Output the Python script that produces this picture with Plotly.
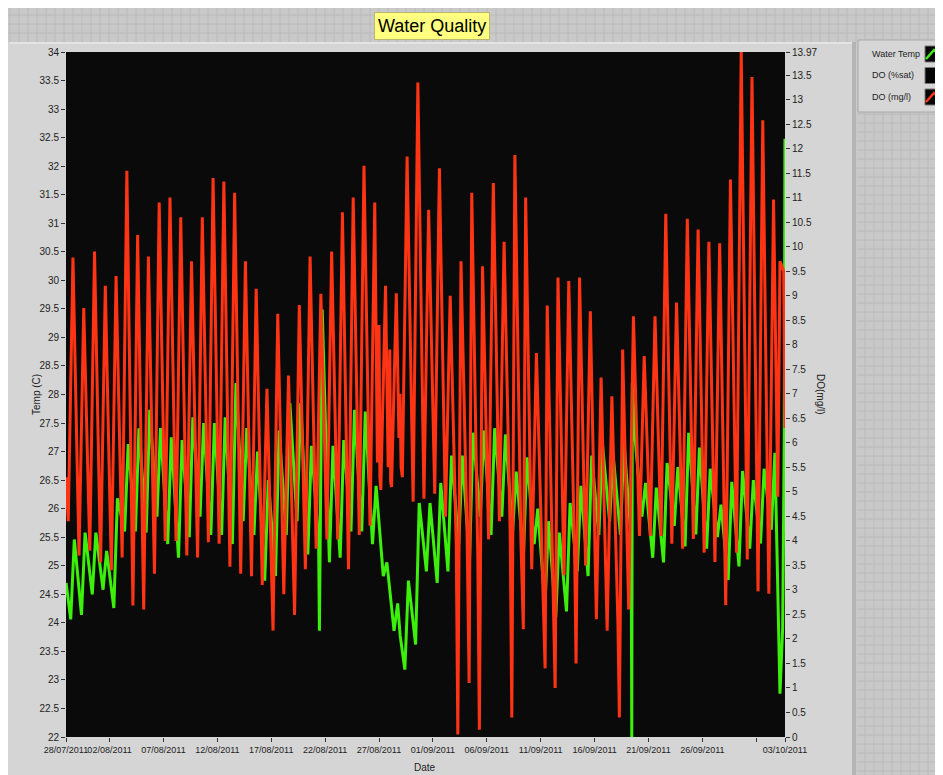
import pandas as pd
import plotly.graph_objects as go

# ---------------- data ----------------
BASE = "2011-07-28"
days = list(range(1, 67))            # 29/07/2011 .. 02/10/2011

do_high = [9.78, 8.75, 9.9, 9.2, 9.4, 11.55, 10.24, 9.8, 10.9, 11.0,
           10.6, 9.7, 10.6, 11.4, 11.33, 11.1, 9.7, 9.14, 7.1, 8.63,
           7.37, 8.81, 9.8, 9.04, 9.9, 10.7, 11.0, 11.65, 10.9, 9.2,
           9.05, 11.84, 13.35, 10.75, 11.6, 9.0, 9.7, 11.1, 9.6, 11.3,
           10.1, 11.87, 11.0, 7.83, 8.8, 9.37, 9.3, 9.37, 8.68, 7.33,
           6.95, 7.9, 8.58, 7.77, 8.58, 10.67, 8.86, 10.57, 10.35, 10.1,
           10.07, 11.37, 13.97, 13.46, 12.58, 10.96]
do_low = [4.4, 3.7, 3.8, 3.56, 3.4, 3.66, 2.68, 2.6, 3.33, 4.0,
          4.0, 3.7, 3.66, 3.97, 3.94, 3.47, 3.33, 3.28, 3.1, 2.17,
          2.91, 2.49, 3.42, 3.84, 4.03, 4.03, 3.42, 4.12, 4.31, 5.04,
          5.1, 5.3, 4.8, 4.86, 4.96, 4.49, 3.9, 4.2, 3.66, 4.03,
          4.4, 4.2, 4.0, 3.42, 3.4, 3.1, 3.3, 3.5, 3.5, 2.4,
          2.17, 2.3, 2.6, 4.1, 4.1, 4.1, 3.94, 3.84, 4.04, 3.76,
          3.57, 2.69, 3.76, 3.62, 2.97, 2.92]
temp_high = [25.46, 25.58, 25.58, 25.26, 26.18, 27.13, 27.41, 27.73, 27.41, 27.25,
             27.2, 27.6, 27.5, 27.5, 27.6, 28.2, 27.41, 27.0, 26.5, 27.37,
             27.85, 27.85, 27.1, 29.49, 27.1, 27.2, 27.73, 27.7, 26.4, 25.06,
             24.34, 24.74, 26.1, 26.1, 26.45, 26.93, 26.93, 27.33, 27.37, 27.41,
             27.3, 26.65, 26.9, 26.0, 25.78, 25.58, 26.1, 26.4, 26.93, 27.13,
             26.93, 27.17, 27.3, 26.45, 26.37, 26.8, 26.73, 27.33, 27.07, 26.7,
             26.07, 26.47, 26.66, 26.5, 26.7, 26.98]
temp_low = [24.06, 24.14, 24.5, 24.58, 24.26, 25.6, 25.6, 25.58, 25.86, 25.38,
            25.14, 25.5, 25.86, 25.54, 25.54, 25.38, 25.78, 25.54, 24.74, 24.82,
            25.54, 25.78, 25.2, 25.46, 25.06, 25.14, 25.6, 25.6, 25.38, 24.82,
            23.86, 23.18, 23.62, 24.9, 24.7, 24.9, 25.38, 25.1, 25.86, 25.54,
            25.86, 25.6, 25.18, 25.38, 24.3, 24.1, 24.2, 24.9, 24.82, 25.54,
            25.78, 25.54, 25.46, 25.86, 25.14, 25.06, 25.7, 25.34, 25.55, 25.3,
            25.5, 24.75, 24.99, 25.3, 25.39, 25.63]

# irregular readings (days since 28/07/2011 00:00, value)
do_event_days = [0.97, 29.85, 30.0, 30.08, 30.85, 31.0, 31.08, 31.85, 31.95, 32.05,
                 37.31, 38.36, 39.31, 42.32, 43.39, 45.41, 46.34, 48.28, 52.3,
                 67.0, 67.2, 67.55, 67.66]
do_event_vals = [5.3, 5.6, 8.4, 5.3, 5.5, 7.9, 5.2, 6.1, 7.0, 5.5,
                 0.05, 1.1, 0.15, 0.4, 2.2, 1.4, 1.0, 1.5, 0.4,
                 4.9, 9.7, 9.5, 6.3]
temp_event_days = [0.97, 24.47, 31.96, 53.45, 53.5, 67.2, 67.45, 67.6, 67.66]
temp_event_vals = [24.7, 23.86, 23.78, 22.0, 28.2, 22.76, 23.9, 27.3, 32.48]

x_start, x_end = "2011-07-28 23:00", "2011-10-03 16:00"
tick_dates = [x_start, "2011-08-02", "2011-08-07", "2011-08-12", "2011-08-17",
              "2011-08-22", "2011-08-27", "2011-09-01", "2011-09-06", "2011-09-11",
              "2011-09-16", "2011-09-21", "2011-09-26", "2011-10-01", x_end]
tick_text = ["28/07/2011", "02/08/2011", "07/08/2011", "12/08/2011", "17/08/2011",
             "22/08/2011", "27/08/2011", "01/09/2011", "06/09/2011", "11/09/2011",
             "16/09/2011", "21/09/2011", "26/09/2011", "", "03/10/2011"]
left_ticks = [22 + 0.5 * i for i in range(25)]
right_ticks = [0.5 * i for i in range(28)] + [13.97]
right_text = [f"{v:g}" for v in right_ticks]

# ---------------- build series ----------------
base = pd.Timestamp(BASE)


def build(low, high, low_hours, high_hours, ev_days, ev_vals):
    pts = []
    for d, lo, hi in zip(days, low, high):
        pts.append((base + pd.Timedelta(days=d, hours=low_hours), lo))
        pts.append((base + pd.Timedelta(days=d, hours=high_hours), hi))
    for t, v in zip(ev_days, ev_vals):
        pts.append((base + pd.Timedelta(days=t), v))
    pts.sort(key=lambda p: p[0])
    return [p[0] for p in pts], [p[1] for p in pts]


do_x, do_y = build(do_low, do_high, 4, 14.5, do_event_days, do_event_vals)
t_x, t_y = build(temp_low, temp_high, 9.5, 17.5, temp_event_days, temp_event_vals)

RED = "#ff3414"
GREEN = "#3cf00c"
FONT = "Liberation Sans, Arial, sans-serif"

fig = go.Figure()
fig.add_trace(go.Scatter(x=do_x, y=do_y, mode="lines", yaxis="y2", name="DO (mg/l)",
                         line=dict(color=RED, width=3), hoverinfo="skip"))
fig.add_trace(go.Scatter(x=t_x, y=t_y, mode="lines", name="Water Temp",
                         line=dict(color=GREEN, width=3), hoverinfo="skip"))

# ---------------- layout helpers ----------------
# coordinates below are in screenshot pixels; the page body adds an 8 px offset
OFF = 8
L, R, T, B = 66, 785, 52, 737
W, H = 943, 775
FW, FH = W - OFF, H - OFF


def px(x):
    return (x - L) / (R - L)


def py(y):
    return (B - y) / (B - T)


def rect(x0, y0, x1, y1, fill, line=None, lw=0, layer="below"):
    return dict(type="rect", xref="paper", yref="paper",
                x0=px(x0), x1=px(x1), y0=py(y1), y1=py(y0),
                fillcolor=fill, line=dict(color=line or fill, width=lw), layer=layer)


shapes = []
GRIDBG = "#c9c9c9"
shapes.append(rect(OFF, OFF, W, 42, GRIDBG))
shapes.append(rect(856, OFF, W, H, GRIDBG))
path = []
gx = 10
while gx < W:
    path.append(f"M{px(gx)},{py(OFF)} L{px(gx)},{py(42)}")
    if gx > 856:
        path.append(f"M{px(gx)},{py(112)} L{px(gx)},{py(H)}")
    gx += 9
gy = 15
while gy < H:
    if gy < 42:
        path.append(f"M{px(OFF)},{py(gy)} L{px(W)},{py(gy)}")
    elif gy > 112:
        path.append(f"M{px(857)},{py(gy)} L{px(W)},{py(gy)}")
    gy += 9
shapes.append(dict(type="path", xref="paper", yref="paper", path=" ".join(path),
                   line=dict(color="#bababa", width=1), layer="below"))
shapes.append(rect(852, 42, 856, H, "#b4b4b4"))
shapes.append(rect(10, 42, 852, 44, "#e4e4e4"))
shapes.append(rect(858, 40, W, 112, "#d6d6d6", "#a8a8a8", 1))
for i, col in enumerate([GREEN, None, RED]):
    y0 = 46 + i * 21.5
    shapes.append(dict(type="rect", xref="paper", yref="paper",
                       x0=px(925), x1=px(946), y0=py(y0 + 16), y1=py(y0),
                       fillcolor="#050505", line=dict(color="#777777", width=1)))
    if col:
        shapes.append(dict(type="path", xref="paper", yref="paper",
                           path=f"M{px(926)},{py(y0 + 13)} L{px(934)},{py(y0 + 4)} L{px(943)},{py(y0 + 12)}",
                           line=dict(color=col, width=2.5)))

annotations = [
    dict(text="Water Quality", xref="paper", yref="paper", x=px(432), y=py(26),
         showarrow=False, font=dict(family=FONT, size=18, color="#000000"),
         bgcolor="#ffff80", bordercolor="#b8b870", borderwidth=1, borderpad=3,
         xanchor="center", yanchor="middle"),
    dict(text="Temp (C)", xref="paper", yref="paper", x=px(36), y=py(395),
         xanchor="center", yanchor="middle",
         showarrow=False, textangle=-90, font=dict(family=FONT, size=10, color="#222222")),
    dict(text="DO(mg/l)", xref="paper", yref="paper", x=px(821), y=py(395),
         xanchor="center", yanchor="middle",
         showarrow=False, textangle=90, font=dict(family=FONT, size=10, color="#222222")),
    dict(text="Date", xref="paper", yref="paper", x=px(425), y=py(767),
         xanchor="center", yanchor="middle",
         showarrow=False, font=dict(family=FONT, size=10, color="#222222")),
]
for i, name in enumerate(["Water Temp", "DO (%sat)", "DO (mg/l)"]):
    annotations.append(dict(text=name, xref="paper", yref="paper", x=px(870), y=py(54 + i * 21.5),
                            xanchor="left", yanchor="middle", showarrow=False,
                            font=dict(family=FONT, size=9, color="#222222")))

axis_font = dict(family=FONT, size=10, color="#222222")
fig.update_layout(
    width=FW, height=FH,
    margin=dict(l=L - OFF, r=W - R, t=T - OFF, b=H - B, pad=0),
    paper_bgcolor="#d5d5d5",
    plot_bgcolor="#0a0a0a",
    showlegend=False,
    shapes=shapes,
    annotations=annotations,
    xaxis=dict(type="date", range=[x_start, x_end], tickvals=tick_dates, ticktext=tick_text,
               tickangle=0, showgrid=False, zeroline=False, showline=False, ticks="outside",
               ticklen=4, tickcolor="#333333", tickfont=dict(family=FONT, size=9, color="#222222"),
               fixedrange=True),
    yaxis=dict(range=[22, 34], tickvals=left_ticks, showgrid=False, zeroline=False,
               showline=False, ticks="outside", ticklen=4, tickcolor="#333333",
               tickfont=axis_font, fixedrange=True),
    yaxis2=dict(range=[0, 13.97], overlaying="y", side="right", tickvals=right_ticks,
                ticktext=right_text, showgrid=False, zeroline=False, showline=False,
                ticks="outside", ticklen=4, tickcolor="#333333", tickfont=axis_font,
                fixedrange=True),
)

fig.write_html("out.html")
